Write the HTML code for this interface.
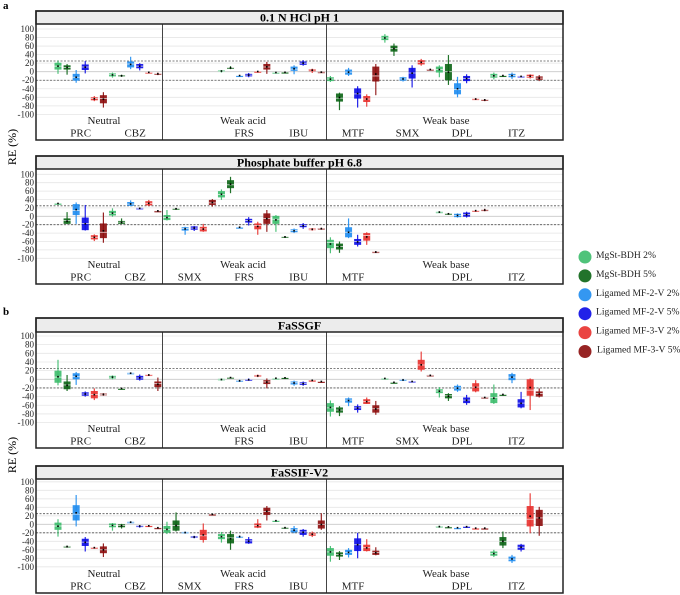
<!DOCTYPE html>
<html><head><meta charset="utf-8"><style>
html,body{margin:0;padding:0;background:#fff;}
svg{display:block;font-family:"Liberation Serif",serif;}
</style></head><body>
<svg id="chart" width="680" height="595" viewBox="0 0 680 595"></svg>
<script>
// ---- data ----
const groupNames = ["Neutral","Weak acid","Weak base"];
const seriesNames = ["MgSt-BDH 2%","MgSt-BDH 5%","Ligamed MF-2-V 2%","Ligamed MF-2-V 5%","Ligamed MF-3-V 2%","Ligamed MF-3-V 5%"];
const yTicks = [100,80,60,40,20,0,-20,-40,-60,-80,-100];
const limitLines = [25,-20];
const panelTitles = ["0.1 N HCl pH 1","Phosphate buffer pH 6.8","FaSSGF","FaSSIF-V2"];
const N = null;
// each slot: [min, q1, median, q3, max]; 54 slots = 9 drugs x 6 series
const dataA1 = [
[-5,5,13,21,26],[-7,5,10,15,18],[-26,-21,-13,-5,4],[-4,4,11,17,25],[-69,-67,-63,-60,-57],[-84,-74,-63,-55,-48],
[-14,-11,-7,-4,-2],[-12,-11,-10,-8,-7],[6,10,18,24,35],[3,8,13,18,20],[-3,-2,-2,-1,-1],[-8,-6,-5,-4,-2],
N,N,N,N,N,N,
[-2,0,1,3,4],[6,8,9,10,13],[-10,-9,-9,-9,-8],[-13,-11,-8,-5,-3],[0,0,1,1,1],[-5,5,11,18,23],
[-4,-3,-2,-1,0],[-2,-2,-1,-1,0],[-6,2,6,12,15],[14,16,20,24,27],[-3,1,4,6,7],[-3,-2,-1,0,0],
[-24,-22,-17,-13,-10],[-90,-70,-62,-51,-49],[-10,-7,-1,5,9],[-84,-63,-52,-39,-34],[-82,-71,-64,-57,-53],[-55,-23,-10,12,18],
[68,74,79,84,88],[37,47,54,61,66],[-23,-21,-17,-13,-12],[-37,-16,-3,9,15],[14,17,22,27,30],[3,4,5,6,7],
[-13,-2,5,12,15],[-31,-20,0,18,39],[-60,-53,-42,-27,-12],[-27,-22,-16,-10,-6],[-66,-65,-64,-63,-62],[-69,-67,-66,-65,-64],
[-18,-14,-10,-5,-2],[-10,-9,-9,-9,-8],[-17,-13,-9,-5,-2],[-12,-12,-11,-10,-10],[-16,-14,-11,-7,-6],[-22,-19,-15,-11,-8]];
const dataA2 = [
[29,30,31,31,32],[-18,-18,-10,-5,10],[-18,3,14,29,33],[-34,-33,-17,-3,27],[-59,-55,-50,-45,-43],[-63,-52,-38,-17,9],
[-1,2,7,13,19],[-18,-18,-14,-11,-5],[24,25,29,34,38],[17,18,19,20,21],[24,26,31,36,39],[12,13,13,13,14],
[-10,-9,-3,3,15],[16,17,18,19,20],[-44,-34,-29,-26,-25],[-35,-32,-28,-24,-23],[-37,-36,-30,-25,-18],[23,27,32,39,41],
[39,45,52,60,64],[55,67,75,86,94],[-27,-26,-26,-26,-25],[-22,-15,-10,-6,-2],[-44,-31,-22,-17,-13],[-37,-18,-5,7,15],
[-37,-18,-7,1,3],[-51,-50,-49,-48,-47],[-40,-38,-34,-31,-29],[-30,-26,-22,-19,-16],[-34,-33,-31,-29,-28],[-32,-31,-29,-28,-27],
[-88,-76,-62,-56,-50],[-87,-79,-72,-65,-60],[-52,-50,-38,-26,-5],[-72,-68,-60,-54,-44],[-68,-58,-46,-40,-38],[-87,-86,-85,-84,-83],
N,N,N,N,N,N,
[8,9,10,11,12],[4,5,6,7,8],[-3,-2,2,6,7],[-3,-1,4,9,11],[11,13,13,14,15],[12,14,15,16,18],
N,N,N,N,N,N];
const dataB1 = [
[-14,-8,5,20,45],[-27,-23,-13,-5,10],[-13,0,6,14,17],[-40,-38,-34,-30,-28],[-48,-44,-35,-27,-21],[-38,-37,-35,-33,-32],
[0,2,5,8,9],[-22,-21,-21,-21,-20],[13,13,14,15,16],[-3,-1,3,8,11],[8,9,10,11,12],[-27,-18,-10,-5,4],
N,N,N,N,N,N,
[-3,-2,-1,1,2],[3,3,4,5,5],[-6,-5,-3,-2,-1],[-3,-2,-1,0,2],[5,6,8,10,11],[-21,-11,-6,-2,2],
[1,2,2,3,3],[3,3,4,4,5],[-15,-12,-8,-5,-3],[-15,-13,-10,-7,-5],[-3,-3,-2,-2,-1],[-6,-5,-5,-5,-4],
[-86,-75,-66,-55,-49],[-85,-77,-71,-65,-62],[-62,-54,-48,-44,-42],[-77,-71,-66,-62,-58],[-57,-57,-51,-46,-42],[-82,-77,-68,-60,-50],
[1,1,2,3,3],[-7,-7,-7,-7,-7],[-4,-3,-1,0,1],[-6,-6,-5,-4,-4],[18,22,33,45,64],[7,8,9,10,11],
[-42,-32,-27,-23,-18],[-50,-44,-38,-34,-32],[-29,-26,-20,-15,-12],[-59,-55,-48,-42,-36],[-30,-28,-18,-9,-2],[-43,-43,-42,-41,-41],
[-57,-55,-42,-32,-12],[-35,-35,-35,-35,-35],[-9,-2,5,12,15],[-67,-65,-55,-46,-29],[-71,-38,-25,0,2],[-42,-40,-33,-28,-21]];
const dataB2 = [
[-29,-13,-4,4,12],[-55,-54,-52,-51,-50],[-5,9,24,45,69],[-64,-51,-42,-34,-30],[-57,-56,-55,-54,-53],[-77,-68,-60,-52,-45],
[-15,-7,-3,2,3],[-10,-7,-3,0,1],[3,4,5,6,7],[-8,-5,-4,-3,-2],[-4,-4,-3,-3,-2],[-8,-8,-8,-8,-8],
[-23,-20,-12,-4,6],[-17,-15,-3,9,28],[-22,-21,-20,-18,-17],[-33,-32,-30,-28,-27],[-43,-37,-27,-13,2],[23,23,24,24,25],
[-43,-35,-29,-23,-18],[-60,-45,-32,-23,-15],[-32,-30,-29,-28,-26],[-46,-45,-39,-35,-30],[-9,-8,-3,2,12],[9,22,30,39,43],
[8,8,9,9,10],[-10,-9,-8,-7,-6],[-21,-19,-13,-9,-4],[-29,-25,-18,-13,-11],[-30,-27,-23,-20,-17],[-13,-10,0,9,26],
[-88,-74,-65,-56,-51],[-84,-76,-71,-66,-63],[-78,-72,-66,-60,-56],[-80,-63,-48,-33,-20],[-64,-63,-55,-48,-35],[-73,-72,-66,-62,-54],
N,N,N,N,N,N,
[-8,-7,-5,-4,-3],[-6,-6,-6,-6,-6],[-8,-8,-8,-8,-8],[-6,-6,-5,-5,-4],[-9,-9,-9,-9,-9],[-9,-9,-9,-9,-9],
[-77,-74,-69,-64,-60],[-56,-50,-40,-30,-17],[-91,-87,-82,-76,-72],[-64,-60,-54,-48,-46],[-21,-5,12,43,73],[-27,-4,15,34,41]];
const panelDrugLabels = [
 [["PRC",0],["CBZ",1],["FRS",3],["IBU",4],["MTF",5],["SMX",6],["DPL",7],["ITZ",8]],
 [["PRC",0],["CBZ",1],["SMX",2],["FRS",3],["IBU",4],["MTF",5],["DPL",7],["ITZ",8]],
 [["PRC",0],["CBZ",1],["FRS",3],["IBU",4],["MTF",5],["SMX",6],["DPL",7],["ITZ",8]],
 [["PRC",0],["CBZ",1],["SMX",2],["FRS",3],["IBU",4],["MTF",5],["DPL",7],["ITZ",8]]];
const allData = [dataA1,dataA2,dataB1,dataB2];

// ---- layout ----
const colors = ["#3cbc6c","#0a6414","#1e8cf0","#0a0ae6","#e8302c","#8c0c0c"];
const panels = [
 {top:11,tb:24,bottom:140,y0:71.7,k:0.427},
 {top:156,tb:169,bottom:284,y0:216.3,k:0.42},
 {top:318,tb:332,bottom:448,y0:379.3,k:0.433},
 {top:466,tb:479,bottom:593,y0:524.3,k:0.425}];
const L=36,R=563;
const xSlot = i => 58 + i*9.08;
const svg = document.getElementById('chart');
const NS="http://www.w3.org/2000/svg";
function mk(tag, attrs, parent){const e=document.createElementNS(NS,tag);for(const k in attrs)e.setAttribute(k,attrs[k]);(parent||svg).appendChild(e);return e;}
function txt(s, attrs, parent){const e=mk('text',attrs,parent);e.textContent=s;return e;}

let t;
t=txt("a",{x:3,y:9,'font-size':11,'font-weight':'bold'});


t=txt("b",{x:3,y:315,'font-size':11,'font-weight':'bold'});


t=txt("RE (%)",{x:0,y:0,'font-size':12,'text-anchor':'middle',transform:'translate(16,147) rotate(-90)'});


t=txt("RE (%)",{x:0,y:0,'font-size':12,'text-anchor':'middle',transform:'translate(16,455) rotate(-90)'});



panels.forEach((p,pi)=>{
  const g=mk('g',{});
  
  
  const Y=v=>p.y0 - v*p.k;
  for(let v=-100; v<=140; v+=20){
    if(Y(v)<p.tb+1) continue;
    const gl=mk('line',{x1:L,x2:R,y1:Y(v),y2:Y(v),stroke:v===0?'#c8c8c8':'#e6e6e6','stroke-width':0.8},g);
    
    
  }
  limitLines.forEach(v=>{
    const dl=mk('line',{x1:L,x2:R,y1:Y(v),y2:Y(v),stroke:'#555','stroke-width':0.8,'stroke-dasharray':'2,1.5'},g);
    
    
  });
  [162.5,326.5].forEach(x=>{
    const d=mk('line',{x1:x,x2:x,y1:p.tb,y2:p.bottom,stroke:'#444','stroke-width':1},g);
    
    
  });
  yTicks.forEach(v=>{
    const tk=txt(String(v),{x:34,y:Y(v)+3,'font-size':9,'text-anchor':'end',fill:'#222'},g);
    
    
  });
  allData[pi].forEach((d,i)=>{
    if(!d) return;
    const x=xSlot(i), c=colors[i%6], w=7;
    const bg=mk('g',{},g);
    
    
    mk('line',{x1:x,x2:x,y1:Y(d[4]),y2:Y(d[0]),stroke:c,'stroke-width':1.2,opacity:0.9},bg);
    const h=Math.max(Y(d[1])-Y(d[3]),1.5);
    mk('rect',{x:x-w/2,y:Y(d[3]),width:w,height:h,fill:c,opacity:0.9},bg);
    mk('line',{x1:x-w/2,x2:x+w/2,y1:Y(d[2]),y2:Y(d[2]),stroke:'#fff','stroke-width':0.8,opacity:0.8},bg);
    mk('rect',{x:x-0.8,y:Y((d[1]+d[3])/2)-0.8,width:1.6,height:1.6,fill:'#000'},bg);
  });
  const tbar=mk('rect',{x:L,y:p.top,width:R-L,height:p.tb-p.top,fill:'#ececec',stroke:'#222','stroke-width':1.5},g);
  
  
  const ttl=txt(panelTitles[pi],{x:(L+R)/2,y:p.tb-2.5,'font-size':12,'font-weight':'bold','text-anchor':'middle'},g);
  
  
  const br=mk('rect',{x:L,y:p.top,width:R-L,height:p.bottom-p.top,fill:'none',stroke:'#222','stroke-width':1.5},g);
  
  
  [[groupNames[0],104],[groupNames[1],243],[groupNames[2],446]].forEach(([s,x])=>{
    const gl=txt(s,{x:x,y:p.bottom-16,'font-size':11,'text-anchor':'middle',fill:'#222'},g);
    
    
  });
  panelDrugLabels[pi].forEach(([s,di])=>{
    const dl=txt(s,{x:xSlot(di*6+2.5),y:p.bottom-3.5,'font-size':11,'text-anchor':'middle',fill:'#222'},g);
    
    
  });
});

const lg=mk('g',{});


seriesNames.forEach((s,i)=>{
  const y=257+i*18.9;
  const e=mk('g',{},lg);
  
  
  mk('circle',{cx:585,cy:y,r:6.5,fill:colors[i],opacity:0.9},e);
  txt(s,{x:i===5?597:596,y:y+1,'font-size':9.6,fill:'#222'},e);
});
</script>
</body></html>
